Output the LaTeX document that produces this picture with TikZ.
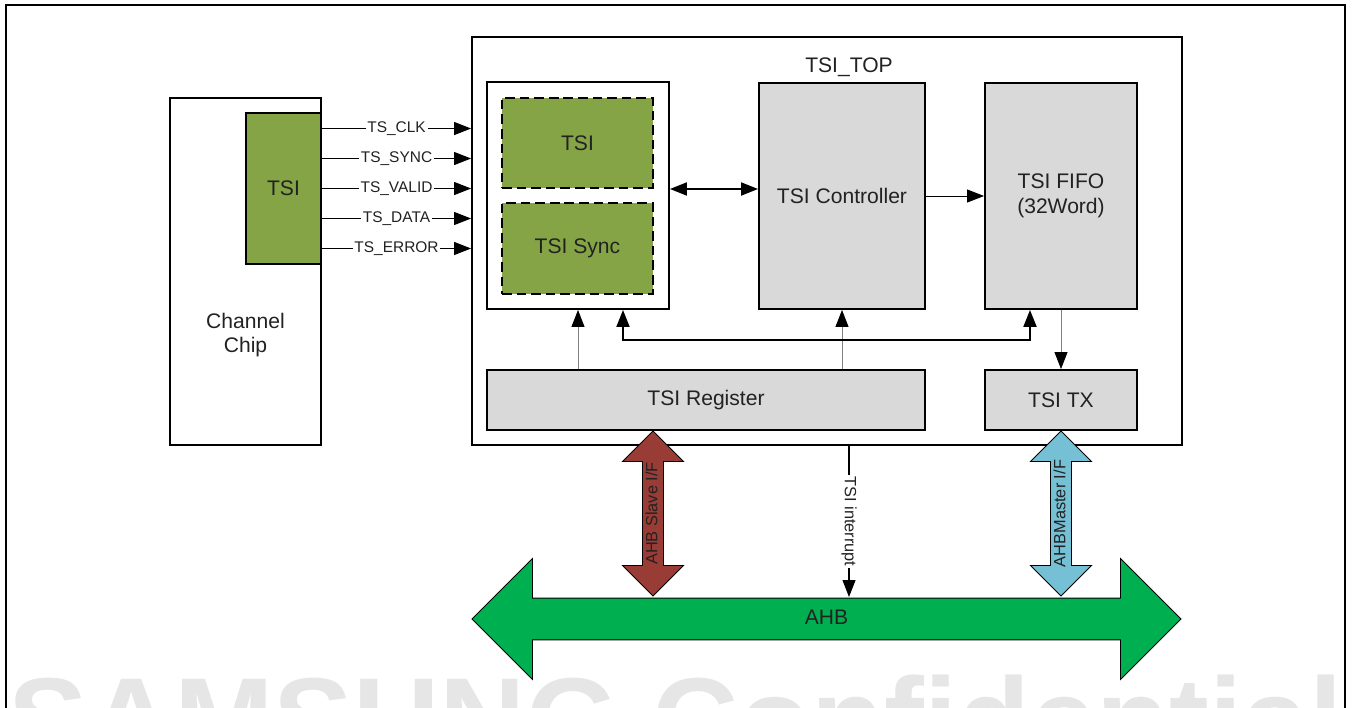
\documentclass[tikz,border=0pt]{standalone}
\usepackage{fontspec}
\setmainfont{Liberation Sans}
\usetikzlibrary{arrows.meta,positioning,shapes.arrows,calc}
\definecolor{tsigreen}{HTML}{85A446}
\definecolor{blockgray}{HTML}{D9D9D9}
\definecolor{ahbgreen}{HTML}{00B050}
\definecolor{slavered}{HTML}{993C35}
\definecolor{masterblue}{HTML}{76C0D5}
\definecolor{wmgray}{HTML}{E6E6E6}
\definecolor{inkgray}{HTML}{222222}

\begin{document}
\begin{tikzpicture}[
  x=0.02cm, y=-0.02cm,
  font=\fontsize{12}{14}\selectfont, text=inkgray,
  box/.style={draw=black, line width=1.1pt, inner sep=0pt, align=center},
  grayblock/.style={box, fill=blockgray},
  greenblock/.style={box, fill=tsigreen},
  dashblock/.style={greenblock, dash pattern=on 5.5pt off 2.8pt},
  sig/.style={-{Triangle[length=0.34cm,width=0.26cm]}, line width=0.6pt},
  siglabel/.style={fill=white, inner sep=1pt, font=\fontsize{8.8}{10}\selectfont},
  link/.style={{Triangle[length=0.34cm,width=0.26cm]}-{Triangle[length=0.34cm,width=0.26cm]}, line width=1.1pt},
  feed/.style={-{Triangle[length=0.34cm,width=0.26cm,black]}, line width=0.5pt, draw=gray},
  busif/.style={double arrow, draw=black, line width=0.5pt, double arrow head extend=0.4cm,
    text height=6.5pt, text depth=1.5pt, inner ysep=1.7pt, inner xsep=0pt,
    minimum height=3.3cm, rotate=90, font=\fontsize{9.3}{10}\selectfont}
]
\useasboundingbox (0,0) rectangle (1353,707);
\clip (0,0) rectangle (1353,707);

% watermark and page frame
\node[anchor=base west, inner sep=0pt, text=wmgray, font=\fontsize{68}{74}\selectfont\bfseries] (wm) at (8,761) {SAMSUNG Confidential};
\draw[line width=1.2pt] (6,800) |- (1345,5) -- (1345,800);

% channel chip
\node[box, line width=0.8pt, minimum width=3.02cm, minimum height=6.94cm] (chip) at (245.5,271.5) {};
\node[align=center] (chiptext) at (245.5,335) {Channel\\Chip};
\node[greenblock, minimum width=1.5cm, minimum height=3.02cm] (chiptsi) at (283.5,188.5) {TSI};

% TSI_TOP
\node[box, minimum width=14.2cm, minimum height=8.16cm] (top) at (827,241) {};
\node (toplbl) at (849,67) {TSI\_TOP};
\node[box, fill=white, minimum width=3.64cm, minimum height=4.54cm] (inner) at (578,195.5) {};
\node[dashblock, minimum width=3.02cm, minimum height=1.8cm] (tsi) at (577.5,143) {TSI};
\node[dashblock, minimum width=3.02cm, minimum height=1.82cm] (sync) at (577.5,248.5) {TSI Sync};
\node[grayblock, minimum width=3.32cm, minimum height=4.52cm] (ctrl) at (842,196) {TSI Controller};
\node[grayblock, minimum width=3.04cm, minimum height=4.52cm] (fifo) at (1061,196) {TSI FIFO\\(32Word)};
\node[grayblock, minimum width=8.76cm, minimum height=1.2cm] (reg) at (706,400) {TSI Register};
\node[grayblock, minimum width=3.04cm, minimum height=1.2cm] (tx) at (1061,400) {TSI TX};

% input signals
\foreach \sname [count=\i] in {TS\_CLK,TS\_SYNC,TS\_VALID,TS\_DATA,TS\_ERROR}
  \draw[sig] ([yshift={(3-\i)*0.6cm}]chiptsi.east) -- ([yshift={(3-\i)*0.6cm}]chiptsi.east -| top.west)
    node[midway, siglabel] {\sname};

% internal connections
\draw[link] ([yshift=0.13cm]inner.east) -- ([yshift=0.13cm]inner.east -| ctrl.west);
\draw[sig, line width=0.5pt] (ctrl.east) -- (fifo.west);
\draw[feed] (reg.north -| inner.south) -- (inner.south);
\draw[feed] (reg.north -| ctrl.south) -- (ctrl.south);
\draw[link] ([xshift=0.9cm]inner.south) -- ++(0,-0.6cm) -| ([xshift=-0.62cm]fifo.south);
\draw[feed] (fifo.south) -- (tx.north);

% AHB bus
\node[double arrow, draw=black, line width=0.5pt, fill=ahbgreen, double arrow head extend=0.79cm,
  text height=8pt, text depth=2pt, inner ysep=0.234cm, inner xsep=0pt, minimum height=14.18cm] (ahb) at (826.5,619) {AHB};
\node[busif, fill=slavered] (slave) at (653,513.5) {AHB Slave I/F};
\node[busif, fill=masterblue] (master) at (1061,513.5) {AHBMaster I/F};
\coordinate (irqend) at (849,597);
\draw[sig] (irqend |- top.south) -- (irqend)
  node[midway, rotate=-90, fill=white, inner sep=1pt, font=\fontsize{9.3}{10}\selectfont] {TSI interrupt};
\end{tikzpicture}
\end{document}
